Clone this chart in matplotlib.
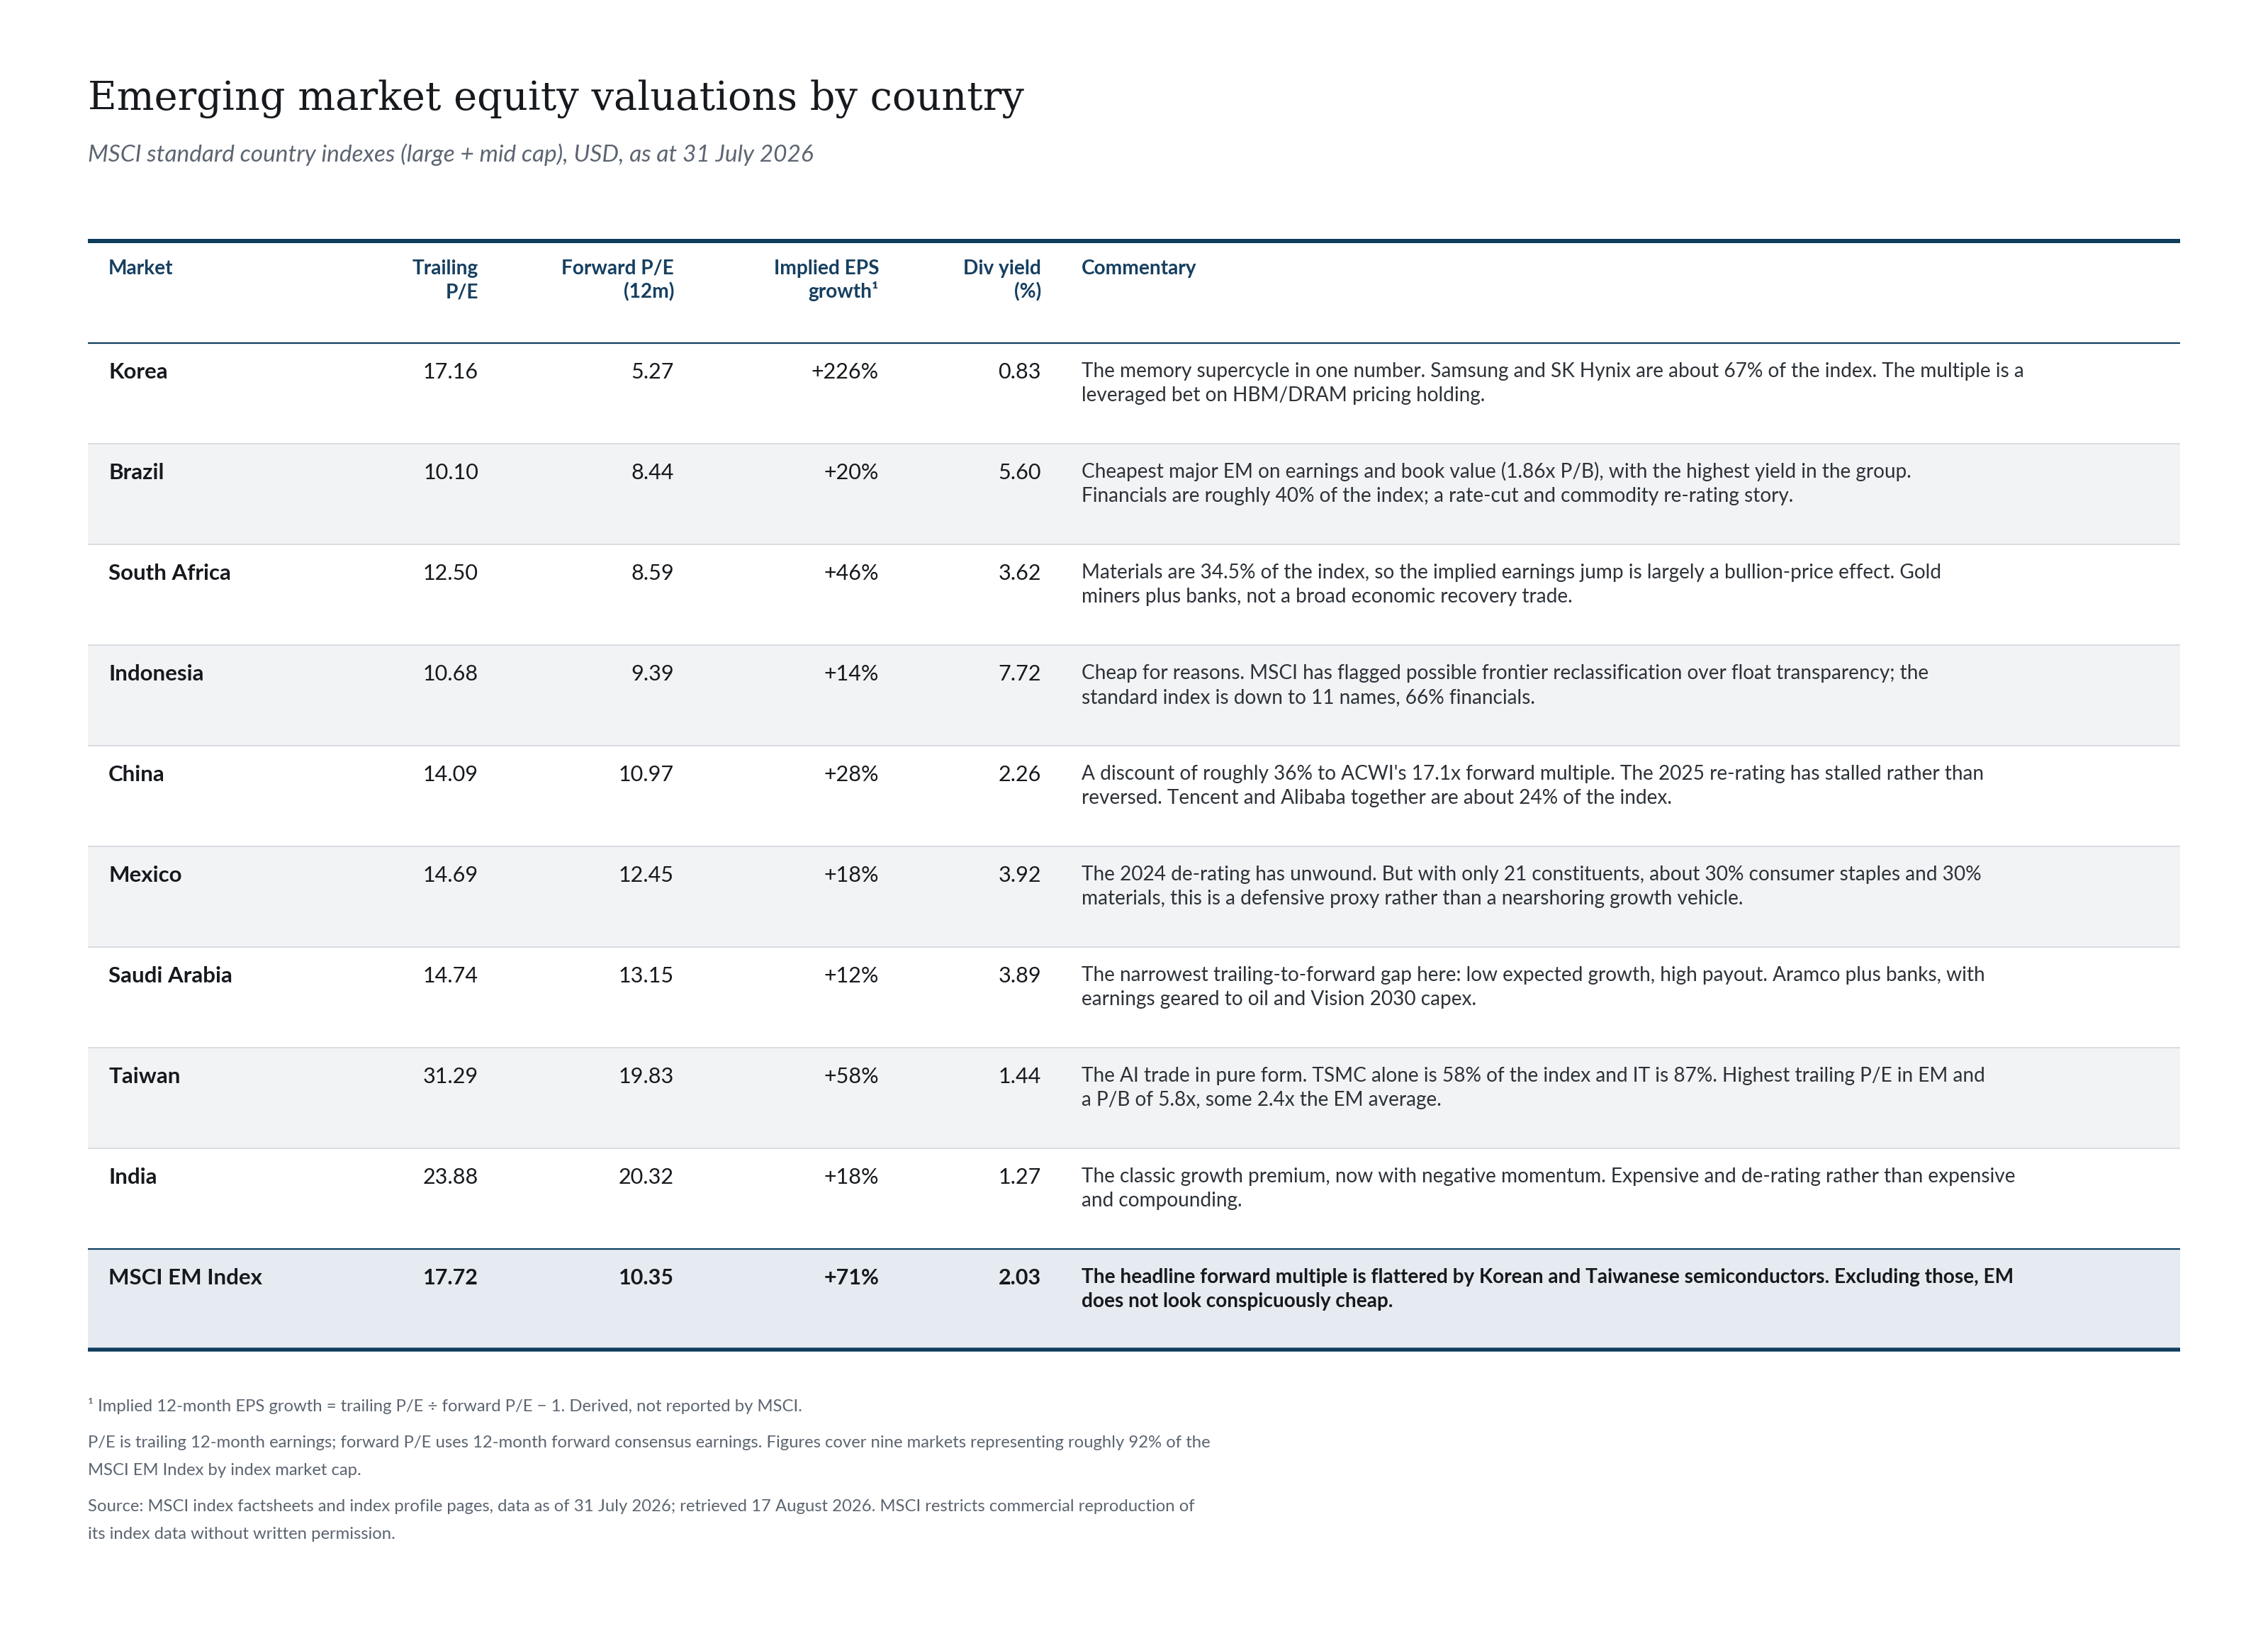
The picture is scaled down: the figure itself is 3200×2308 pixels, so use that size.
import matplotlib
matplotlib.use("Agg")
import matplotlib.pyplot as plt
from matplotlib.patches import Rectangle

plt.rcParams['font.family'] = ['Lato', 'DejaVu Sans']

# ---------------- data ----------------
title = "Emerging market equity valuations by country"
subtitle = "MSCI standard country indexes (large + mid cap), USD, as at 31 July 2026"

headers = [["Market"], ["Trailing", "P/E"], ["Forward P/E", "(12m)"],
           ["Implied EPS", "growth\u00b9"], ["Div yield", "(%)"], ["Commentary"]]

markets = ["Korea", "Brazil", "South Africa", "Indonesia", "China", "Mexico",
           "Saudi Arabia", "Taiwan", "India", "MSCI EM Index"]
trailing_pe = [17.16, 10.10, 12.50, 10.68, 14.09, 14.69, 14.74, 31.29, 23.88, 17.72]
forward_pe = [5.27, 8.44, 8.59, 9.39, 10.97, 12.45, 13.15, 19.83, 20.32, 10.35]
eps_growth = [226, 20, 46, 14, 28, 18, 12, 58, 18, 71]
div_yield = [0.83, 5.60, 3.62, 7.72, 2.26, 3.92, 3.89, 1.44, 1.27, 2.03]
commentary = [
    ["The memory supercycle in one number. Samsung and SK Hynix are about 67% of the index. The multiple is a",
     "leveraged bet on HBM/DRAM pricing holding."],
    ["Cheapest major EM on earnings and book value (1.86x P/B), with the highest yield in the group.",
     "Financials are roughly 40% of the index; a rate-cut and commodity re-rating story."],
    ["Materials are 34.5% of the index, so the implied earnings jump is largely a bullion-price effect. Gold",
     "miners plus banks, not a broad economic recovery trade."],
    ["Cheap for reasons. MSCI has flagged possible frontier reclassification over float transparency; the",
     "standard index is down to 11 names, 66% financials."],
    ["A discount of roughly 36% to ACWI's 17.1x forward multiple. The 2025 re-rating has stalled rather than",
     "reversed. Tencent and Alibaba together are about 24% of the index."],
    ["The 2024 de-rating has unwound. But with only 21 constituents, about 30% consumer staples and 30%",
     "materials, this is a defensive proxy rather than a nearshoring growth vehicle."],
    ["The narrowest trailing-to-forward gap here: low expected growth, high payout. Aramco plus banks, with",
     "earnings geared to oil and Vision 2030 capex."],
    ["The AI trade in pure form. TSMC alone is 58% of the index and IT is 87%. Highest trailing P/E in EM and",
     "a P/B of 5.8x, some 2.4x the EM average."],
    ["The classic growth premium, now with negative momentum. Expensive and de-rating rather than expensive",
     "and compounding."],
    ["The headline forward multiple is flattered by Korean and Taiwanese semiconductors. Excluding those, EM",
     "does not look conspicuously cheap."],
]
footnotes = [
    ["\u00b9 Implied 12-month EPS growth = trailing P/E \u00f7 forward P/E \u2212 1. Derived, not reported by MSCI."],
    ["P/E is trailing 12-month earnings; forward P/E uses 12-month forward consensus earnings. Figures cover nine markets representing roughly 92% of the",
     "MSCI EM Index by index market cap."],
    ["Source: MSCI index factsheets and index profile pages, data as of 31 July 2026; retrieved 17 August 2026. MSCI restricts commercial reproduction of",
     "its index data without written permission."],
]

# ---------------- style ----------------
W, H = 3200, 2308
DPI = 200
NAVY = "#0f3d5e"
HEAD = "#163f60"
INK = "#16191d"
BODY = "#2c3238"
GREY = "#5c6571"
SHADE = "#f2f3f5"
TOTAL = "#e6ebf2"
SEP = "#d2d6dc"

fig = plt.figure(figsize=(W / DPI, H / DPI), dpi=DPI)
fig.patch.set_facecolor("white")
ax = fig.add_axes([0, 0, 1, 1])
ax.set_xlim(0, W)
ax.set_ylim(H, 0)
ax.axis("off")

PX = DPI / 72.0  # pixels per point

left, right = 124, 3076
col_x = [153, 675, 951, 1240, 1469, 1526]
col_ha = ["left", "right", "right", "right", "right", "left"]

# title (fit to reference width)
t = ax.text(left, 155, title, fontsize=24, family=["DejaVu Serif"], color=INK,
            ha="left", va="baseline")
fig.canvas.draw()
r = fig.canvas.get_renderer()
wpx = t.get_window_extent(r).width
t.set_fontsize(24 * 1322 / wpx)

ax.text(left, 228, subtitle, fontsize=12.0, style="italic", color=GREY,
        ha="left", va="baseline")

# header
top_rule = 340
head_rule = 484
ax.plot([left, right], [top_rule, top_rule], color=NAVY, lw=6 / PX,
        solid_capstyle="butt")
for x, ha, lines in zip(col_x, col_ha, headers):
    for j, s in enumerate(lines):
        ax.text(x, 387 + 33 * j, s, fontsize=10.1, fontweight="bold", color=HEAD,
                ha=ha, va="baseline")
ax.plot([left, right], [head_rule, head_rule], color=NAVY, lw=2.2 / PX,
        solid_capstyle="butt")

# rows
row_h = 142
n = len(markets)
for i in range(n):
    top = head_rule + i * row_h
    is_total = i == n - 1
    if is_total:
        ax.add_patch(Rectangle((left, top), right - left, row_h, facecolor=TOTAL,
                               edgecolor="none", zorder=0))
    elif i % 2 == 1:
        ax.add_patch(Rectangle((left, top), right - left, row_h, facecolor=SHADE,
                               edgecolor="none", zorder=0))
    if i > 0:
        if is_total:
            ax.plot([left, right], [top, top], color=NAVY, lw=2.2 / PX,
                    solid_capstyle="butt", zorder=2)
        else:
            ax.plot([left, right], [top, top], color=SEP, lw=1.6 / PX,
                    solid_capstyle="butt", zorder=1)
    wt = "bold" if is_total else "normal"
    yb = top + 50
    ax.text(col_x[0], yb, markets[i], fontsize=11.25, fontweight="bold", color=INK,
            ha="left", va="baseline")
    vals = [f"{trailing_pe[i]:.2f}", f"{forward_pe[i]:.2f}",
            f"+{eps_growth[i]}%", f"{div_yield[i]:.2f}"]
    for x, v in zip(col_x[1:5], vals):
        ax.text(x, yb, v, fontsize=11, fontweight=wt, color=INK,
                ha="right", va="baseline")
    for j, s in enumerate(commentary[i]):
        ax.text(col_x[5], top + 48 + 34 * j, s, fontsize=10.1, fontweight=wt,
                color=INK if is_total else BODY, ha="left", va="baseline")

bottom = head_rule + n * row_h
ax.plot([left, right], [bottom, bottom], color=NAVY, lw=5.5 / PX,
        solid_capstyle="butt", zorder=3)

# footnotes
yb = 1991
for k, para in enumerate(footnotes):
    for j, s in enumerate(para):
        ax.text(left, yb, s, fontsize=8.6, color=GREY, ha="left", va="baseline",
                family=["Lato", "DejaVu Sans"])
        yb += 39
    yb += 12

fig.savefig("out.png", dpi=DPI, facecolor="white")
